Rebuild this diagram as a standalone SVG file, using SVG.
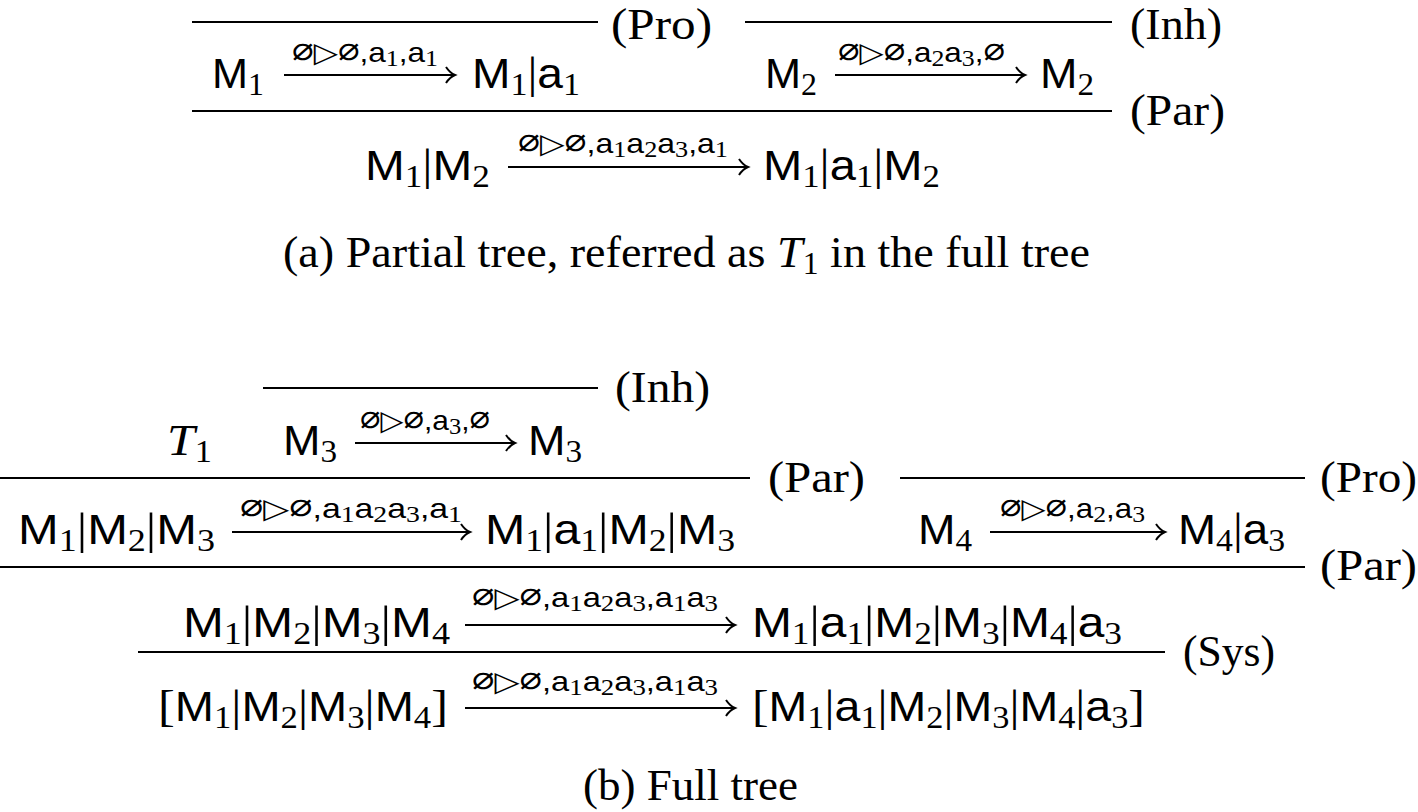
<svg xmlns="http://www.w3.org/2000/svg" width="1418" height="812" viewBox="0 0 1418 812">
<style>
.s{font-family:"Liberation Sans","DejaVu Sans",sans-serif;font-size:42px;fill:#000}
.r{font-family:"Liberation Serif","DejaVu Serif",serif;font-size:45px;fill:#000}
.rt{font-size:43.5px}
.sb{font-family:"Liberation Serif","DejaVu Serif",serif;font-size:31px}
.br{font-family:"Liberation Serif","DejaVu Serif",serif;font-size:45px}
.l{font-family:"Liberation Sans","DejaVu Sans",sans-serif;font-size:28px;fill:#000}
.e{font-family:"DejaVu Sans Mono","DejaVu Sans",monospace;font-size:32px}
.ls{font-family:"Liberation Serif","DejaVu Serif",serif;font-size:23px}
.it{font-style:italic}
.rule{stroke:#000;stroke-width:2.2;fill:none}
.arr{stroke:#000;stroke-width:2;fill:none}
</style>
<defs>
<marker id="ah" markerUnits="userSpaceOnUse" markerWidth="14" markerHeight="20" refX="12" refY="10" orient="auto" overflow="visible">
<path d="M3 2 Q7 8 12 10 Q7 12 3 18" fill="none" stroke="#000" stroke-width="2"/>
</marker>
</defs>

<g id="rules">
<line class="rule" x1="192" y1="22" x2="598" y2="22"/>
<line class="rule" x1="745" y1="22" x2="1112" y2="22"/>
<line class="rule" x1="192" y1="111" x2="1112" y2="111"/>
<line class="rule" x1="263" y1="388" x2="598" y2="388"/>
<line class="rule" x1="0" y1="478" x2="750" y2="478"/>
<line class="rule" x1="900" y1="478" x2="1305" y2="478"/>
<line class="rule" x1="0" y1="567" x2="1305" y2="567"/>
<line class="rule" x1="138" y1="652" x2="1165" y2="652"/>
</g>

<g id="connectors">
<line class="arr" x1="284" y1="75" x2="455" y2="75" marker-end="url(#ah)"/>
<line class="arr" x1="835" y1="75" x2="1025" y2="75" marker-end="url(#ah)"/>
<line class="arr" x1="508" y1="167" x2="748" y2="167" marker-end="url(#ah)"/>
<line class="arr" x1="355" y1="443" x2="515" y2="443" marker-end="url(#ah)"/>
<line class="arr" x1="232" y1="532" x2="470" y2="532" marker-end="url(#ah)"/>
<line class="arr" x1="990" y1="532" x2="1165" y2="532" marker-end="url(#ah)"/>
<line class="arr" x1="465" y1="625" x2="735" y2="625" marker-end="url(#ah)"/>
<line class="arr" x1="465" y1="708" x2="735" y2="708" marker-end="url(#ah)"/>
</g>

<g id="rule-labels">
<text class="r rt" x="611" y="39" textLength="101" lengthAdjust="spacingAndGlyphs">(Pro)</text>
<text class="r rt" x="1130" y="39" textLength="92" lengthAdjust="spacingAndGlyphs">(Inh)</text>
<text class="r" x="1130" y="125" textLength="95" lengthAdjust="spacingAndGlyphs">(Par)</text>
<text class="r" x="615" y="402" textLength="95" lengthAdjust="spacingAndGlyphs">(Inh)</text>
<text class="r" x="768" y="492" textLength="97" lengthAdjust="spacingAndGlyphs">(Par)</text>
<text class="r" x="1320" y="492" textLength="97" lengthAdjust="spacingAndGlyphs">(Pro)</text>
<text class="r" x="1320" y="580" textLength="97" lengthAdjust="spacingAndGlyphs">(Par)</text>
<text class="r" x="1183" y="666" textLength="92" lengthAdjust="spacingAndGlyphs">(Sys)</text>
</g>

<g id="node-a1">
<text class="s" x="212" y="88" textLength="52" lengthAdjust="spacingAndGlyphs">M<tspan class="sb" dy="7">1</tspan></text>
<text class="l" x="292" y="62" textLength="146" lengthAdjust="spacingAndGlyphs"><tspan class="e">∅</tspan>▷<tspan class="e">∅</tspan>,a<tspan class="ls" dy="4">1</tspan><tspan dy="-4">,a</tspan><tspan class="ls" dy="4">1</tspan></text>
<text class="s" x="472" y="88" textLength="108" lengthAdjust="spacingAndGlyphs">M<tspan class="sb" dy="7">1</tspan><tspan class="br" dy="-7">|</tspan>a<tspan class="sb" dy="7">1</tspan></text>
</g>

<g id="node-a2">
<text class="s" x="765" y="88" textLength="52" lengthAdjust="spacingAndGlyphs">M<tspan class="sb" dy="7">2</tspan></text>
<text class="l" x="838" y="62" textLength="167" lengthAdjust="spacingAndGlyphs"><tspan class="e">∅</tspan>▷<tspan class="e">∅</tspan>,a<tspan class="ls" dy="4">2</tspan><tspan dy="-4">a</tspan><tspan class="ls" dy="4">3</tspan><tspan dy="-4">,</tspan><tspan class="e">∅</tspan></text>
<text class="s" x="1040" y="88" textLength="54" lengthAdjust="spacingAndGlyphs">M<tspan class="sb" dy="7">2</tspan></text>
</g>

<g id="node-a3">
<text class="s" x="365" y="180" textLength="125" lengthAdjust="spacingAndGlyphs">M<tspan class="sb" dy="7">1</tspan><tspan class="br" dy="-7">|</tspan>M<tspan class="sb" dy="7">2</tspan></text>
<text class="l" x="518" y="153" textLength="210" lengthAdjust="spacingAndGlyphs"><tspan class="e">∅</tspan>▷<tspan class="e">∅</tspan>,a<tspan class="ls" dy="4">1</tspan><tspan dy="-4">a</tspan><tspan class="ls" dy="4">2</tspan><tspan dy="-4">a</tspan><tspan class="ls" dy="4">3</tspan><tspan dy="-4">,a</tspan><tspan class="ls" dy="4">1</tspan></text>
<text class="s" x="763" y="180" textLength="177" lengthAdjust="spacingAndGlyphs">M<tspan class="sb" dy="7">1</tspan><tspan class="br" dy="-7">|</tspan>a<tspan class="sb" dy="7">1</tspan><tspan class="br" dy="-7">|</tspan>M<tspan class="sb" dy="7">2</tspan></text>
</g>

<g id="caption-a">
<text class="r" x="283" y="267" textLength="807" lengthAdjust="spacingAndGlyphs">(a) Partial tree, referred as <tspan class="it">T</tspan><tspan class="sb" dy="7">1</tspan><tspan dy="-7"> in the full tree</tspan></text>
</g>

<g id="node-t1">
<text class="r" x="167" y="455" textLength="45" lengthAdjust="spacingAndGlyphs"><tspan class="it">T</tspan><tspan class="sb" dy="7">1</tspan></text>
</g>

<g id="node-b1">
<text class="s" x="283" y="455" textLength="54" lengthAdjust="spacingAndGlyphs">M<tspan class="sb" dy="7">3</tspan></text>
<text class="l" x="360" y="430" textLength="130" lengthAdjust="spacingAndGlyphs"><tspan class="e">∅</tspan>▷<tspan class="e">∅</tspan>,a<tspan class="ls" dy="4">3</tspan><tspan dy="-4">,</tspan><tspan class="e">∅</tspan></text>
<text class="s" x="528" y="455" textLength="54" lengthAdjust="spacingAndGlyphs">M<tspan class="sb" dy="7">3</tspan></text>
</g>

<g id="node-b2">
<text class="s" x="18" y="544" textLength="197" lengthAdjust="spacingAndGlyphs">M<tspan class="sb" dy="7">1</tspan><tspan class="br" dy="-7">|</tspan>M<tspan class="sb" dy="7">2</tspan><tspan class="br" dy="-7">|</tspan>M<tspan class="sb" dy="7">3</tspan></text>
<text class="l" x="240" y="518" textLength="222" lengthAdjust="spacingAndGlyphs"><tspan class="e">∅</tspan>▷<tspan class="e">∅</tspan>,a<tspan class="ls" dy="4">1</tspan><tspan dy="-4">a</tspan><tspan class="ls" dy="4">2</tspan><tspan dy="-4">a</tspan><tspan class="ls" dy="4">3</tspan><tspan dy="-4">,a</tspan><tspan class="ls" dy="4">1</tspan></text>
<text class="s" x="485" y="544" textLength="250" lengthAdjust="spacingAndGlyphs">M<tspan class="sb" dy="7">1</tspan><tspan class="br" dy="-7">|</tspan>a<tspan class="sb" dy="7">1</tspan><tspan class="br" dy="-7">|</tspan>M<tspan class="sb" dy="7">2</tspan><tspan class="br" dy="-7">|</tspan>M<tspan class="sb" dy="7">3</tspan></text>
</g>

<g id="node-b3">
<text class="s" x="918" y="544" textLength="54" lengthAdjust="spacingAndGlyphs">M<tspan class="sb" dy="7">4</tspan></text>
<text class="l" x="1000" y="518" textLength="145" lengthAdjust="spacingAndGlyphs"><tspan class="e">∅</tspan>▷<tspan class="e">∅</tspan>,a<tspan class="ls" dy="4">2</tspan><tspan dy="-4">,a</tspan><tspan class="ls" dy="4">3</tspan></text>
<text class="s" x="1178" y="544" textLength="107" lengthAdjust="spacingAndGlyphs">M<tspan class="sb" dy="7">4</tspan><tspan class="br" dy="-7">|</tspan>a<tspan class="sb" dy="7">3</tspan></text>
</g>

<g id="node-b4">
<text class="s" x="183" y="637" textLength="267" lengthAdjust="spacingAndGlyphs">M<tspan class="sb" dy="7">1</tspan><tspan class="br" dy="-7">|</tspan>M<tspan class="sb" dy="7">2</tspan><tspan class="br" dy="-7">|</tspan>M<tspan class="sb" dy="7">3</tspan><tspan class="br" dy="-7">|</tspan>M<tspan class="sb" dy="7">4</tspan></text>
<text class="l" x="472" y="607" textLength="246" lengthAdjust="spacingAndGlyphs"><tspan class="e">∅</tspan>▷<tspan class="e">∅</tspan>,a<tspan class="ls" dy="4">1</tspan><tspan dy="-4">a</tspan><tspan class="ls" dy="4">2</tspan><tspan dy="-4">a</tspan><tspan class="ls" dy="4">3</tspan><tspan dy="-4">,a</tspan><tspan class="ls" dy="4">1</tspan><tspan dy="-4">a</tspan><tspan class="ls" dy="4">3</tspan></text>
<text class="s" x="752" y="637" textLength="370" lengthAdjust="spacingAndGlyphs">M<tspan class="sb" dy="7">1</tspan><tspan class="br" dy="-7">|</tspan>a<tspan class="sb" dy="7">1</tspan><tspan class="br" dy="-7">|</tspan>M<tspan class="sb" dy="7">2</tspan><tspan class="br" dy="-7">|</tspan>M<tspan class="sb" dy="7">3</tspan><tspan class="br" dy="-7">|</tspan>M<tspan class="sb" dy="7">4</tspan><tspan class="br" dy="-7">|</tspan>a<tspan class="sb" dy="7">3</tspan></text>
</g>

<g id="node-b5">
<text class="s" x="158" y="721" textLength="290" lengthAdjust="spacingAndGlyphs"><tspan class="br">[</tspan>M<tspan class="sb" dy="7">1</tspan><tspan class="br" dy="-7">|</tspan>M<tspan class="sb" dy="7">2</tspan><tspan class="br" dy="-7">|</tspan>M<tspan class="sb" dy="7">3</tspan><tspan class="br" dy="-7">|</tspan>M<tspan class="sb" dy="7">4</tspan><tspan class="br" dy="-7">]</tspan></text>
<text class="l" x="472" y="691" textLength="246" lengthAdjust="spacingAndGlyphs"><tspan class="e">∅</tspan>▷<tspan class="e">∅</tspan>,a<tspan class="ls" dy="4">1</tspan><tspan dy="-4">a</tspan><tspan class="ls" dy="4">2</tspan><tspan dy="-4">a</tspan><tspan class="ls" dy="4">3</tspan><tspan dy="-4">,a</tspan><tspan class="ls" dy="4">1</tspan><tspan dy="-4">a</tspan><tspan class="ls" dy="4">3</tspan></text>
<text class="s" x="752" y="721" textLength="393" lengthAdjust="spacingAndGlyphs"><tspan class="br">[</tspan>M<tspan class="sb" dy="7">1</tspan><tspan class="br" dy="-7">|</tspan>a<tspan class="sb" dy="7">1</tspan><tspan class="br" dy="-7">|</tspan>M<tspan class="sb" dy="7">2</tspan><tspan class="br" dy="-7">|</tspan>M<tspan class="sb" dy="7">3</tspan><tspan class="br" dy="-7">|</tspan>M<tspan class="sb" dy="7">4</tspan><tspan class="br" dy="-7">|</tspan>a<tspan class="sb" dy="7">3</tspan><tspan class="br" dy="-7">]</tspan></text>
</g>

<g id="caption-b">
<text class="r" x="583" y="800" textLength="215" lengthAdjust="spacingAndGlyphs">(b) Full tree</text>
</g>
</svg>
